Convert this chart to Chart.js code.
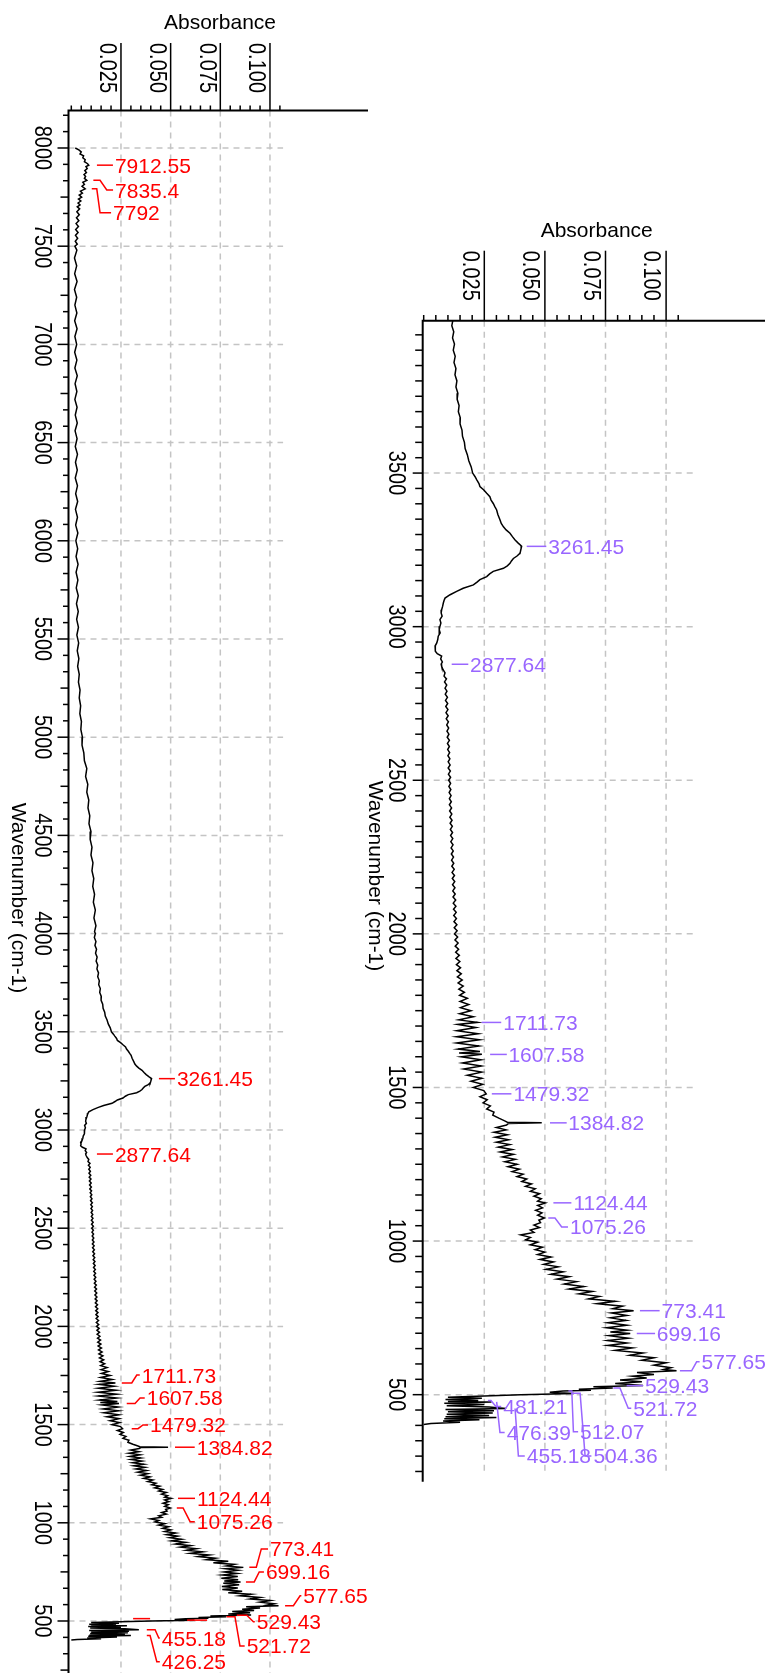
<!DOCTYPE html>
<html><head><meta charset="utf-8"><title>IR spectrum</title>
<script src="https://cdn.jsdelivr.net/npm/chart.js@4.4.1/dist/chart.umd.min.js"></script>
<style>
html,body{margin:0;padding:0;background:#fff;}
#page{position:relative;width:765px;height:1673px;overflow:hidden;background:#fff}
#page canvas{position:absolute;left:0;top:0}
</style></head><body>
<div id="page"><canvas id="leftChart" width="765" height="1673"></canvas><canvas id="rightChart" width="765" height="1673"></canvas></div>
<script>
// ================= DATA =================
const absorbanceTicks = [0.025, 0.050, 0.075, 0.100];
const absorbanceTickLabels = ['0.025', '0.050', '0.075', '0.100'];
const leftWavenumberTicks = [8000, 7500, 7000, 6500, 6000, 5500, 5000, 4500, 4000, 3500, 3000, 2500, 2000, 1500, 1000, 500];
const rightWavenumberTicks = [3500, 3000, 2500, 2000, 1500, 1000, 500];

// spectrum: [wavenumber (cm-1), absorbance]
const spectrum8000to7500 = [[8000,0.0020],[7990,0.0038],[7980,0.0050],[7970,0.0044],[7960,0.0062],[7950,0.0058],[7940,0.0070],[7930,0.0066],[7920,0.0082],[7912,0.0088],[7905,0.0074],[7895,0.0080],[7885,0.0068],[7875,0.0076],[7865,0.0064],[7855,0.0072],[7845,0.0066],[7835,0.0078],[7825,0.0058],[7815,0.0066],[7805,0.0054],[7792,0.0070],[7780,0.0046],[7770,0.0056],[7760,0.0040],[7750,0.0052],[7740,0.0036],[7730,0.0048],[7720,0.0034],[7710,0.0044],[7700,0.0030],[7690,0.0042],[7675,0.0028],[7660,0.0040],[7645,0.0026],[7630,0.0038],[7615,0.0024],[7600,0.0036],[7585,0.0022],[7570,0.0034],[7555,0.0021],[7540,0.0032],[7525,0.0020],[7510,0.0030],[7500,0.0018]];
const spectrum7500to4000 = [[7480,0.0028],[7440,0.0016],[7400,0.0027],[7360,0.0017],[7320,0.0029],[7280,0.0016],[7240,0.0027],[7200,0.0018],[7160,0.0028],[7120,0.0017],[7080,0.0029],[7040,0.0018],[7000,0.0027],[6960,0.0017],[6920,0.0028],[6880,0.0018],[6840,0.0030],[6800,0.0019],[6760,0.0028],[6720,0.0018],[6680,0.0029],[6640,0.0020],[6600,0.0030],[6560,0.0019],[6520,0.0029],[6480,0.0020],[6440,0.0031],[6400,0.0021],[6360,0.0030],[6320,0.0020],[6280,0.0031],[6240,0.0022],[6200,0.0032],[6160,0.0021],[6120,0.0031],[6080,0.0022],[6040,0.0033],[6000,0.0023],[5960,0.0032],[5920,0.0024],[5880,0.0034],[5840,0.0024],[5800,0.0033],[5760,0.0025],[5720,0.0035],[5680,0.0026],[5640,0.0035],[5600,0.0027],[5560,0.0036],[5520,0.0028],[5480,0.0037],[5440,0.0030],[5400,0.0038],[5360,0.0032],[5320,0.0040],[5280,0.0036],[5240,0.0044],[5200,0.0040],[5160,0.0047],[5120,0.0043],[5080,0.0051],[5040,0.0048],[5000,0.0056],[4960,0.0054],[4920,0.0063],[4880,0.0066],[4840,0.0078],[4800,0.0072],[4760,0.0083],[4720,0.0078],[4680,0.0088],[4640,0.0084],[4600,0.0093],[4560,0.0089],[4520,0.0099],[4480,0.0095],[4440,0.0104],[4400,0.0099],[4360,0.0109],[4320,0.0104],[4280,0.0113],[4240,0.0108],[4200,0.0117],[4160,0.0111],[4120,0.0121],[4080,0.0114],[4040,0.0124],[4010,0.0117]];
const spectrum4000to3500 = [[4000,0.0121],[3980,0.0116],[3960,0.0124],[3940,0.0119],[3920,0.0127],[3900,0.0122],[3880,0.0130],[3860,0.0125],[3840,0.0133],[3820,0.0129],[3800,0.0137],[3780,0.0133],[3760,0.0141],[3740,0.0138],[3720,0.0146],[3700,0.0143],[3680,0.0151],[3660,0.0150],[3640,0.0158],[3620,0.0160],[3600,0.0168],[3580,0.0171],[3560,0.0180],[3540,0.0186],[3520,0.0196],[3500,0.0202]];
const spectrum3500to2840 = [[3488,0.0212],[3478,0.0219],[3466,0.0228],[3456,0.0232],[3445,0.0248],[3434,0.0260],[3423,0.0273],[3412,0.0278],[3401,0.0287],[3390,0.0294],[3380,0.0301],[3365,0.0306],[3347,0.0315],[3336,0.0320],[3325,0.0329],[3315,0.0340],[3304,0.0356],[3293,0.0366],[3282,0.0377],[3272,0.0390],[3262,0.0404],[3255,0.0402],[3245,0.0399],[3239,0.0397],[3230,0.0385],[3222,0.0370],[3214,0.0362],[3206,0.0356],[3198,0.0345],[3190,0.0329],[3180,0.0287],[3172,0.0272],[3163,0.0260],[3153,0.0232],[3145,0.0220],[3136,0.0205],[3125,0.0163],[3115,0.0136],[3104,0.0109],[3093,0.0088],[3085,0.0084],[3077,0.0081],[3066,0.0078],[3055,0.0074],[3045,0.0072],[3034,0.0076],[3023,0.0067],[3012,0.0071],[3001,0.0067],[2990,0.0064],[2980,0.0068],[2969,0.0060],[2958,0.0058],[2947,0.0054],[2937,0.0047],[2928,0.0049],[2920,0.0047],[2912,0.0056],[2904,0.0074],[2895,0.0070],[2885,0.0077],[2878,0.0072],[2871,0.0074],[2860,0.0080],[2850,0.0088],[2839,0.0084]];
const spectrum2840to1800 = [[2830,0.0094],[2820,0.0086],[2810,0.0095],[2800,0.0088],[2790,0.0096],[2780,0.0089],[2770,0.0098],[2760,0.0090],[2750,0.0099],[2740,0.0091],[2730,0.0100],[2720,0.0092],[2710,0.0101],[2700,0.0093],[2690,0.0102],[2680,0.0095],[2670,0.0103],[2660,0.0096],[2650,0.0104],[2640,0.0097],[2630,0.0106],[2620,0.0098],[2610,0.0106],[2600,0.0099],[2590,0.0107],[2580,0.0100],[2570,0.0108],[2560,0.0101],[2550,0.0109],[2540,0.0101],[2530,0.0110],[2520,0.0102],[2510,0.0111],[2500,0.0103],[2490,0.0111],[2480,0.0104],[2470,0.0112],[2460,0.0105],[2450,0.0113],[2440,0.0106],[2430,0.0114],[2420,0.0106],[2410,0.0115],[2400,0.0107],[2390,0.0116],[2380,0.0108],[2370,0.0117],[2360,0.0109],[2350,0.0118],[2340,0.0110],[2330,0.0119],[2320,0.0111],[2310,0.0120],[2300,0.0112],[2290,0.0121],[2280,0.0113],[2270,0.0122],[2260,0.0114],[2250,0.0123],[2240,0.0115],[2230,0.0124],[2220,0.0116],[2210,0.0126],[2200,0.0117],[2190,0.0127],[2180,0.0118],[2170,0.0128],[2160,0.0119],[2150,0.0129],[2140,0.0120],[2130,0.0130],[2120,0.0121],[2110,0.0132],[2100,0.0122],[2090,0.0133],[2080,0.0123],[2070,0.0134],[2060,0.0124],[2050,0.0135],[2040,0.0125],[2030,0.0137],[2020,0.0126],[2010,0.0138],[2000,0.0127],[1990,0.0140],[1980,0.0129],[1970,0.0142],[1960,0.0130],[1950,0.0144],[1940,0.0132],[1930,0.0147],[1920,0.0133],[1910,0.0149],[1900,0.0135],[1890,0.0152],[1880,0.0137],[1870,0.0155],[1860,0.0139],[1850,0.0159],[1840,0.0142],[1830,0.0163],[1820,0.0145],[1810,0.0168],[1800,0.0148]];
const spectrum1800to1000 = [[1790,0.0180],[1780,0.0150],[1770,0.0186],[1760,0.0152],[1750,0.0195],[1740,0.0148],[1730,0.0205],[1720,0.0145],[1712,0.0222],[1705,0.0140],[1695,0.0215],[1685,0.0137],[1675,0.0225],[1665,0.0135],[1655,0.0230],[1645,0.0136],[1635,0.0228],[1625,0.0142],[1617,0.0232],[1612,0.0146],[1608,0.0240],[1600,0.0155],[1590,0.0236],[1580,0.0160],[1570,0.0238],[1560,0.0165],[1550,0.0239],[1540,0.0180],[1530,0.0240],[1520,0.0195],[1510,0.0243],[1500,0.0205],[1490,0.0248],[1479,0.0258],[1470,0.0232],[1460,0.0262],[1450,0.0245],[1440,0.0275],[1430,0.0260],[1420,0.0290],[1410,0.0285],[1400,0.0310],[1392,0.0332],[1387,0.0345],[1385,0.0487],[1383,0.0350],[1378,0.0342],[1370,0.0300],[1362,0.0340],[1354,0.0290],[1346,0.0345],[1338,0.0295],[1330,0.0350],[1322,0.0300],[1314,0.0355],[1306,0.0308],[1298,0.0365],[1290,0.0315],[1282,0.0370],[1274,0.0325],[1266,0.0378],[1258,0.0335],[1250,0.0385],[1242,0.0348],[1234,0.0395],[1226,0.0365],[1218,0.0410],[1210,0.0385],[1202,0.0425],[1194,0.0405],[1186,0.0445],[1178,0.0420],[1170,0.0460],[1162,0.0440],[1154,0.0478],[1146,0.0455],[1138,0.0485],[1130,0.0470],[1124,0.0502],[1116,0.0470],[1108,0.0490],[1100,0.0462],[1092,0.0488],[1084,0.0470],[1075,0.0498],[1068,0.0475],[1060,0.0482],[1052,0.0455],[1044,0.0478],[1036,0.0440],[1028,0.0455],[1020,0.0400],[1012,0.0440],[1004,0.0420]];
const spectrum1000to400 = [[996,0.0470],[988,0.0440],[980,0.0490],[972,0.0460],[964,0.0500],[956,0.0470],[948,0.0525],[940,0.0480],[932,0.0535],[924,0.0495],[916,0.0555],[908,0.0505],[900,0.0575],[892,0.0525],[884,0.0600],[876,0.0550],[868,0.0630],[860,0.0580],[852,0.0660],[844,0.0600],[836,0.0695],[828,0.0640],[820,0.0725],[812,0.0680],[804,0.0790],[796,0.0715],[788,0.0820],[780,0.0780],[773,0.0866],[766,0.0775],[758,0.0838],[750,0.0770],[742,0.0835],[734,0.0760],[726,0.0838],[718,0.0755],[710,0.0840],[704,0.0770],[699,0.0852],[692,0.0765],[684,0.0845],[676,0.0758],[668,0.0838],[660,0.0760],[652,0.0860],[644,0.0790],[636,0.0905],[628,0.0850],[620,0.0950],[612,0.0900],[604,0.1000],[596,0.0950],[588,0.1020],[582,0.0990],[578,0.1043],[572,0.0880],[566,0.0950],[560,0.0860],[554,0.0920],[548,0.0810],[542,0.0900],[536,0.0790],[530,0.0905],[526,0.0700],[522,0.0780],[518,0.0640],[514,0.0690],[512,0.0575],[508,0.0520],[504,0.0620],[500,0.0400],[496,0.0250],[492,0.0100],[488,0.0240],[484,0.0090],[481,0.0225],[478,0.0100],[476,0.0280],[472,0.0085],[468,0.0250],[464,0.0095],[460,0.0270],[455,0.0340],[452,0.0090],[448,0.0290],[444,0.0100],[440,0.0285],[436,0.0095],[432,0.0270],[428,0.0090],[426,0.0300],[422,0.0085],[418,0.0230],[414,0.0080],[410,0.0150],[406,0.0030],[403,0.0000]];

// peak annotations (wavenumber) and absorbance where each leader line starts
const leftPeakWavenumbers = [7912.55, 7835.4, 7792, 3261.45, 2877.64, 1711.73, 1607.58, 1479.32, 1384.82, 1124.44, 1075.26, 773.41, 699.16, 577.65, 529.43, 521.72, 455.18, 426.25];
const leftPeakAnchors = [0.0129, 0.0111, 0.0103, 0.0441, 0.0129, 0.0254, 0.0279, 0.0304, 0.0522, 0.0537, 0.0531, 0.0896, 0.0879, 0.1076, 0.0833, 0.0782, 0.0380, 0.0380];
// leader lines drawn on the left plot whose labels are hidden there
const leftHiddenPeakWavenumbers = [512.07, 504.36];
const leftHiddenPeakAnchors = [0.0311, 0.0583];
const rightPeakWavenumbers = [3261.45, 2877.64, 1711.73, 1607.58, 1479.32, 1384.82, 1124.44, 1075.26, 773.41, 699.16, 577.65, 529.43, 521.72, 512.07, 504.36, 481.21, 476.39, 455.18];
const rightPeakAnchors = [0.0425, 0.01155, 0.0239, 0.0274, 0.0281, 0.0521, 0.0535, 0.0514, 0.0892, 0.0879, 0.1057, 0.0837, 0.0782, 0.0597, 0.0611, 0.0265, 0.0301, 0.0377];

// ================= LAYOUT (pixels) =================
// leader geometry per label: [h1, h2, dy, textOffset]
const leftLeaders = [[16,16,0,18],[6.7,13.4,9.7,21.7],[5,8.3,24,21.3],[16,16,0,18],[16,16,0,18],[10,15,-8,20],[8.3,13.3,-5.5,20],[6.3,11.3,-3.7,18.3],[17,17,0,21.7],[17,17,0,19],[6.3,13.3,13.7,20],[7,12,-18.4,20.7],[8.3,13.3,-10,20],[8.3,15,-10,18.3],[10,16.6,6.5,20],[8.3,13.3,29.2,20],[8.3,12,8.3,15],[3.3,10,26.2,15]];
const leftHiddenLeaders = [[17,17,0,0],[20,20,0,0]];
const rightLeaders = [[18,18,0,21.6],[16.6,16.6,0,18.3],[18,18,0,21.6],[16.7,16.7,0,18.3],[16.3,16.3,0,21.6],[16.7,16.7,0,18.3],[16.7,16.7,0,20],[6.7,13.4,9,21.7],[18.3,18.3,0,21.7],[18.3,18.3,0,20],[11.7,16.7,-9,21.7],[16.6,16.6,0,18.3],[6.7,15,20.3,20],[3.4,5,40.7,11.7],[8.3,13.3,62.6,21.6],[3,8,6,15.3],[0,3.3,30.7,10],[0,3.3,47.5,11.7]];

const FONT = '"Liberation Sans", Arial, Helvetica, sans-serif';

const spectrumPoints = [].concat(spectrum8000to7500, spectrum7500to4000, spectrum4000to3500,
  spectrum3500to2840, spectrum2840to1800, spectrum1800to1000, spectrum1000to400)
  .map(([w, a]) => ({x: a, y: w}));

function drawRot(ctx, text, x, y, align, stretch) {
  ctx.save();
  ctx.translate(x, y);
  ctx.rotate(Math.PI / 2);
  ctx.scale(1, stretch);
  ctx.textAlign = align;
  ctx.textBaseline = 'alphabetic';
  ctx.fillText(text, 0, 0);
  ctx.restore();
}

function drawLeader(ctx, x0, y0, g) {
  const [h1, h2, dy, tx] = g;
  ctx.beginPath();
  ctx.moveTo(x0, y0); ctx.lineTo(x0 + h1, y0); ctx.lineTo(x0 + h2, y0 + dy);
  if (tx - 2 > h2) ctx.lineTo(x0 + tx - 2, y0 + dy);
  ctx.stroke();
}

function irAxes(L) {
  return {
    id: 'irAxes',
    beforeDatasetsDraw(chart) {
      const {ctx, chartArea: A, scales: {x, y}} = chart;
      ctx.save();
      ctx.strokeStyle = '#c4c4c4';
      ctx.lineWidth = 1.5;
      ctx.setLineDash([6, 5]);
      absorbanceTicks.forEach(v => {
        const px = x.getPixelForValue(v);
        ctx.beginPath(); ctx.moveTo(px, A.top); ctx.lineTo(px, y.getPixelForValue(L.vGridEnd)); ctx.stroke();
      });
      L.wnTicks.forEach(v => {
        const py = y.getPixelForValue(v);
        ctx.beginPath(); ctx.moveTo(A.left, py); ctx.lineTo(x.getPixelForValue(L.hGridEnd), py); ctx.stroke();
      });
      ctx.restore();
    },
    afterDatasetsDraw(chart) {
      const {ctx, chartArea: A, scales: {x, y}} = chart;
      ctx.save();
      ctx.strokeStyle = '#000'; ctx.fillStyle = '#000';
      // axis lines
      ctx.lineWidth = 2;
      ctx.beginPath(); ctx.moveTo(A.left, L.axisBottom); ctx.lineTo(A.left, A.top); ctx.lineTo(A.right, A.top); ctx.stroke();
      // absorbance ticks
      ctx.lineWidth = 1.5;
      for (let i = 0; i <= 21; i++) {
        const px = x.getPixelForValue(i * 0.005);
        const major = i > 0 && i % 5 === 0;
        ctx.beginPath(); ctx.moveTo(px, A.top); ctx.lineTo(px, A.top - (major ? L.xMajorLen : L.xMinorLen)); ctx.stroke();
      }
      // wavenumber ticks
      for (let k = 0; ; k++) {
        const v = k * L.yStep;
        if (v > L.yTickMax) break;
        if (v < L.yTickMin) continue;
        const py = y.getPixelForValue(v);
        const len = L.yLens[k % L.yLens.length];
        ctx.beginPath(); ctx.moveTo(A.left, py); ctx.lineTo(A.left - len, py); ctx.stroke();
      }
      // tick labels
      ctx.font = '20px ' + FONT;
      absorbanceTicks.forEach((v, i) => {
        drawRot(ctx, absorbanceTickLabels[i], x.getPixelForValue(v) - L.xLabGap, L.xLabTop, 'left', 1.15);
      });
      L.wnTicks.forEach(v => {
        drawRot(ctx, String(v), L.yLabBase, y.getPixelForValue(v), 'center', 1.15);
      });
      // titles
      ctx.font = '21px ' + FONT;
      ctx.textAlign = 'center'; ctx.textBaseline = 'alphabetic';
      ctx.fillText('Absorbance', L.xTitleX, L.xTitleY);
      drawRot(ctx, 'Wavenumber (cm-1)', L.yTitleBase, L.yTitleY, 'center', 1);
      // peak labels
      ctx.font = '21px ' + FONT;
      ctx.fillStyle = L.labelColor; ctx.strokeStyle = L.labelColor; ctx.lineWidth = 1.5;
      ctx.textAlign = 'left';
      L.peaks.forEach((wn, i) => {
        const x0 = x.getPixelForValue(L.anchors[i]);
        const y0 = y.getPixelForValue(wn);
        drawLeader(ctx, x0, y0, L.leaders[i]);
        ctx.fillText(String(wn), x0 + L.leaders[i][3], y0 + L.leaders[i][2] + 7.5);
      });
      (L.hiddenPeaks || []).forEach((wn, i) => {
        drawLeader(ctx, x.getPixelForValue(L.hiddenAnchors[i]), y.getPixelForValue(wn), L.hiddenLeaders[i]);
      });
      ctx.restore();
    }
  };
}

function makeChart(id, L) {
  return new Chart(document.getElementById(id), {
    type: 'scatter',
    data: {datasets: [{data: spectrumPoints, showLine: true, borderColor: '#000', borderWidth: 1.5,
      pointRadius: 0, pointHoverRadius: 0, tension: 0, fill: false}]},
    options: {
      responsive: false, animation: false, events: [], devicePixelRatio: 1,
      layout: {padding: {left: L.area.left, right: 765 - L.area.right, top: L.area.top, bottom: 1673 - L.area.bottom}},
      plugins: {legend: {display: false}, tooltip: {enabled: false}},
      scales: {
        x: {type: 'linear', display: false, min: L.xMin, max: L.xMax},
        y: {type: 'linear', display: false, min: L.yMin, max: L.yMax}
      }
    },
    plugins: [irAxes(L)]
  });
}

makeChart('leftChart', {
  area: {left: 68.5, right: 368, top: 110.5, bottom: 1673},
  xMin: -0.00141, xMax: 0.14934, yMin: 235.2, yMax: 8190.9,
  axisBottom: 1673, wnTicks: leftWavenumberTicks,
  vGridEnd: 235.2, hGridEnd: 0.1066,
  xMajorLen: 67.5, xMinorLen: 5,
  yStep: 500 / 6, yTickMin: 240, yTickMax: 8170, yLens: [11, 5.5, 5.5, 8, 5.5, 5.5],
  xLabGap: 20.5, xLabTop: 43, yLabBase: 35,
  xTitleX: 220, xTitleY: 29, yTitleBase: 12, yTitleY: 898,
  labelColor: '#ff0000', peaks: leftPeakWavenumbers, anchors: leftPeakAnchors, leaders: leftLeaders,
  hiddenPeaks: leftHiddenPeakWavenumbers, hiddenAnchors: leftHiddenPeakAnchors, hiddenLeaders: leftHiddenLeaders
});

makeChart('rightChart', {
  area: {left: 422.7, right: 765, top: 320.7, bottom: 1481.7},
  xMin: -0.00041, xMax: 0.1408, yMin: 216.7, yMax: 3996,
  axisBottom: 1481.7, wnTicks: rightWavenumberTicks,
  vGridEnd: 237, hGridEnd: 0.1111,
  xMajorLen: 70, xMinorLen: 5.7,
  yStep: 50, yTickMin: 240, yTickMax: 3960, yLens: [10, 7.5, 7.5, 7.5, 7.5, 7.5, 7.5, 7.5, 7.5, 7.5],
  xLabGap: 21.6, xLabTop: 250.7, yLabBase: 389,
  xTitleX: 596.7, xTitleY: 237, yTitleBase: 369, yTitleY: 876,
  labelColor: '#9966ff', peaks: rightPeakWavenumbers, anchors: rightPeakAnchors, leaders: rightLeaders
});
</script></body></html>
